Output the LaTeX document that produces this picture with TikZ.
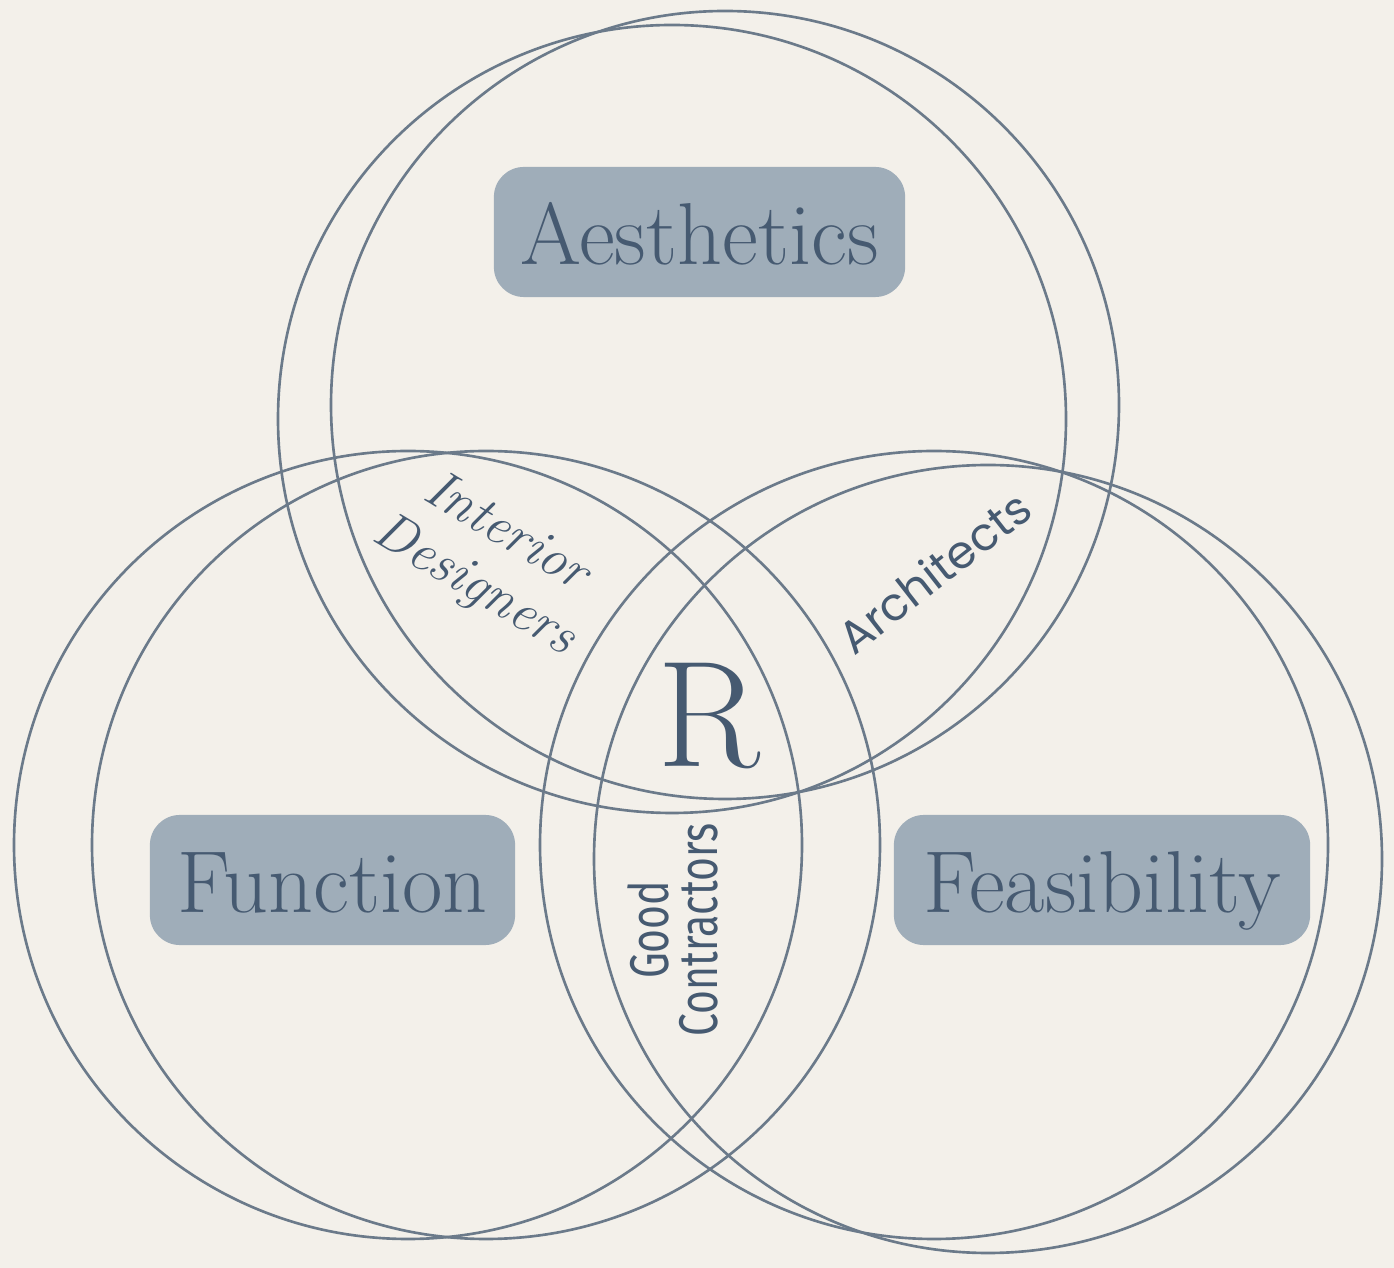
\documentclass[tikz,border=0pt]{standalone}
\usepackage{fontspec}
\usepackage{xcolor}
\newfontfamily\archfont{Poppins}
\newfontfamily\handfont[FakeStretch=0.75]{Fira Sans}
\definecolor{paper}{HTML}{F3F0EA}
\definecolor{slate}{HTML}{465A71}
\definecolor{ringline}{HTML}{6B7A8A}
\definecolor{boxfill}{HTML}{9FADB9}

\begin{document}
\begin{tikzpicture}[
    x=0.01cm, y=-0.01cm,
    ring/.style={draw=ringline, line width=0.75pt},
    category/.style={rectangle, rounded corners=0.3cm, fill=boxfill, text=slate, minimum height=1.3cm, inner sep=0pt, text height=0.64cm, text depth=0pt, font=\fontsize{25}{30}\selectfont},
    overlap/.style={text=slate, align=center, inner sep=0pt}
]
    \fill[paper] (0,0) rectangle (1394,1268);

    % Circles
    \draw[ring] (672,419) circle[radius=394];
    \draw[ring] (725,405) circle[radius=394];
    \draw[ring] (408,845) circle[radius=394];
    \draw[ring] (486,845) circle[radius=394];
    \draw[ring] (934,845) circle[radius=394];
    \draw[ring] (988,859) circle[radius=394];

    % Categories
    \node[category, minimum width=4.11cm] (aesthetics) at (699.5,232) {Aesthetics};
    \node[category, minimum width=3.65cm] (function) at (332.5,880) {Function};
    \node[category, minimum width=4.16cm] (feasibility) at (1102,880) {Feasibility};

    % Overlaps
    \node[overlap, rotate=-31, font=\itshape\fontsize{15.5}{17.5}\selectfont] (designers) at (490,560) {Interior\\Designers};
    \node[overlap, rotate=38, font=\archfont\fontsize{13}{15}\selectfont] (architects) at (934,572) {Architects};
    \node[overlap, rotate=90, font=\handfont\fontsize{15.5}{14}\selectfont] (contractors) at (673,930) {Good\\Contractors};
    \node[overlap, anchor=base, font=\fontsize{43}{43}\selectfont] (centre) at (709,767) {R};
\end{tikzpicture}
\end{document}
